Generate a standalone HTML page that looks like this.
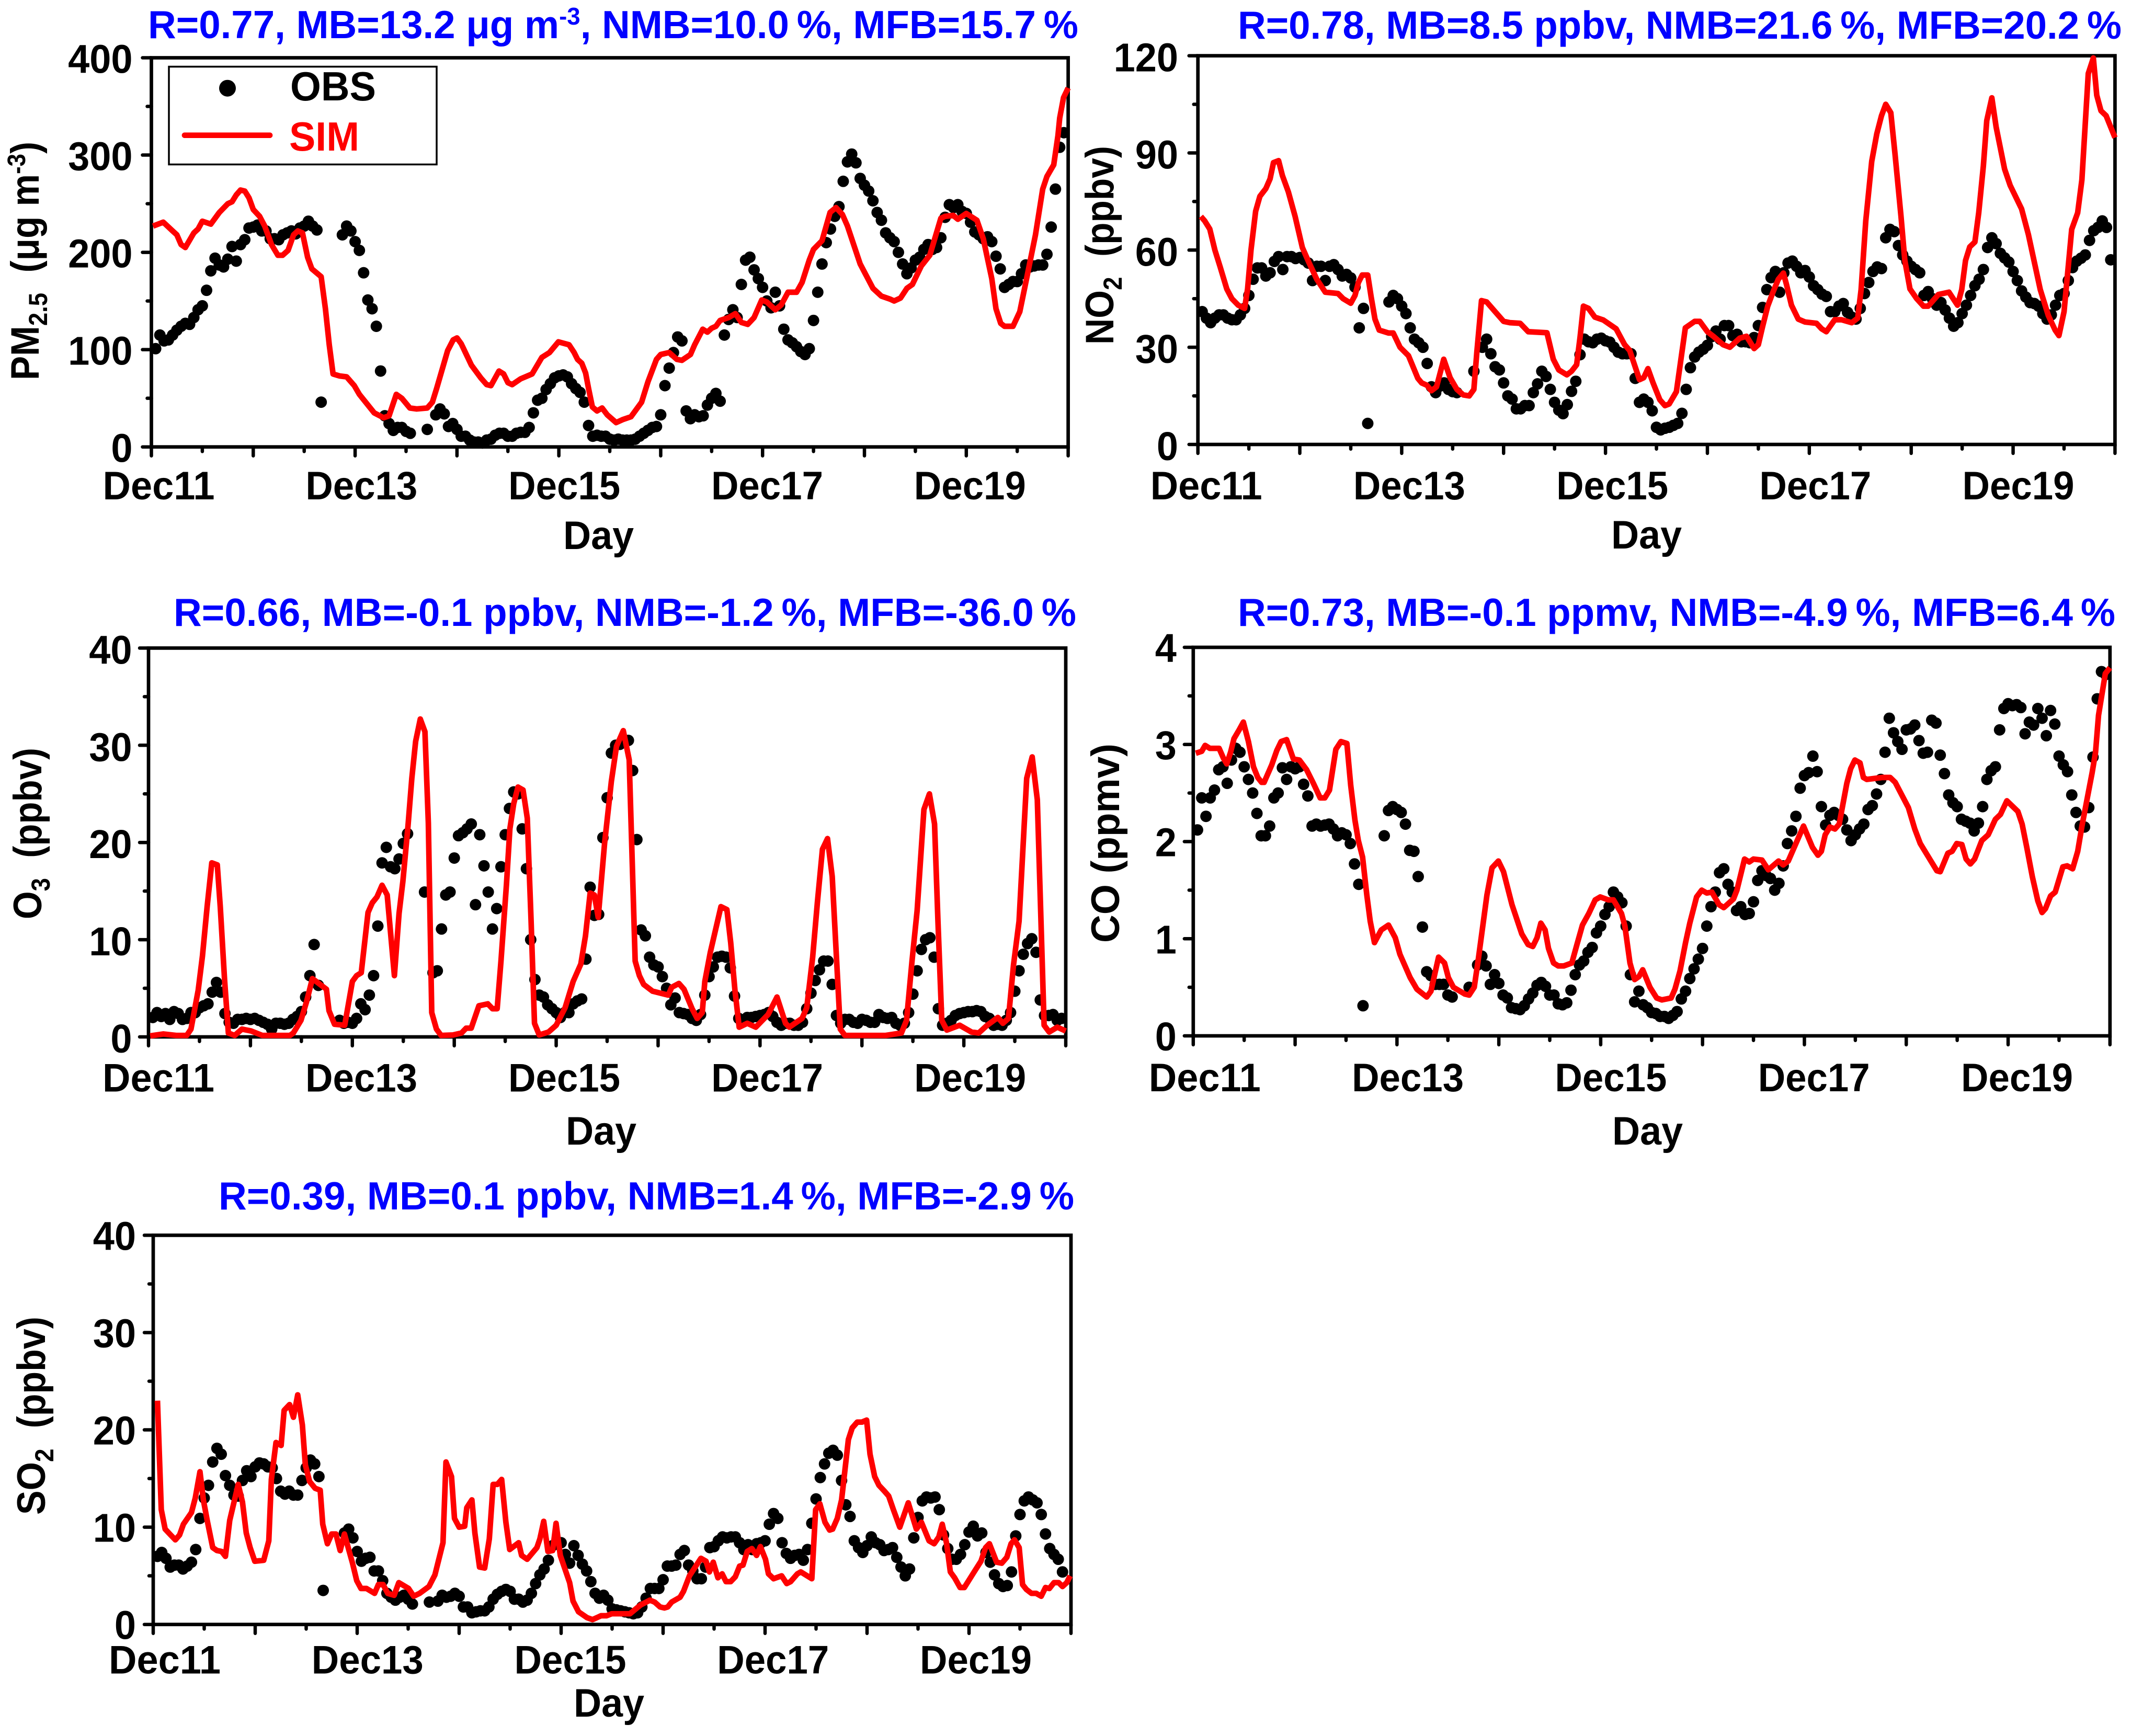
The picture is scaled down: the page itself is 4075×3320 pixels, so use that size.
<!DOCTYPE html>
<html lang="en">
<head>
<meta charset="utf-8">
<title>Observed and simulated pollutant time series</title>
<style>
html,body{margin:0;padding:0;background:#fff;}
svg{display:block;}
text{font-family:"Liberation Sans",Arial,sans-serif;font-weight:700;}
.title{fill:#0000ff;font-size:75px;}
.axt{fill:#000;font-size:76px;}
</style>
</head>
<body>
<svg id="chart" xmlns="http://www.w3.org/2000/svg" width="4075" height="3320" viewBox="0 0 4075 3320">
<rect x="0" y="0" width="4075" height="3320" fill="#fff"/>

<text class="title" x="283" y="73" textLength="1779" lengthAdjust="spacingAndGlyphs">R=0.77, MB=13.2 μg m<tspan font-size="46" dy="-26">-3</tspan><tspan dy="26">, NMB=10.0&#8201;%, MFB=15.7&#8201;%</tspan></text>
<text class="title" x="2367" y="74" textLength="1690" lengthAdjust="spacingAndGlyphs">R=0.78, MB=8.5 ppbv, NMB=21.6&#8201;%, MFB=20.2&#8201;%</text>
<text class="title" x="332" y="1197" textLength="1726" lengthAdjust="spacingAndGlyphs">R=0.66, MB=-0.1 ppbv, NMB=-1.2&#8201;%, MFB=-36.0&#8201;%</text>
<text class="title" x="2367" y="1197" textLength="1678" lengthAdjust="spacingAndGlyphs">R=0.73, MB=-0.1 ppmv, NMB=-4.9&#8201;%, MFB=6.4&#8201;%</text>
<text class="title" x="418" y="2313" textLength="1636" lengthAdjust="spacingAndGlyphs">R=0.39, MB=0.1 ppbv, NMB=1.4&#8201;%, MFB=-2.9&#8201;%</text>

<text class="axt" transform="translate(74,727) rotate(-90)" textLength="456" lengthAdjust="spacingAndGlyphs">PM<tspan font-size="50" dy="16">2.5</tspan><tspan dy="-16">&#160;&#160;(μg m</tspan><tspan font-size="48" dy="-26">-3</tspan><tspan dy="26">)</tspan></text>
<text class="axt" transform="translate(2129,659) rotate(-90)" textLength="380" lengthAdjust="spacingAndGlyphs">NO<tspan font-size="50" dy="16">2</tspan><tspan dy="-16">&#160;&#160;(ppbv)</tspan></text>
<text class="axt" transform="translate(79,1758) rotate(-90)" textLength="328" lengthAdjust="spacingAndGlyphs">O<tspan font-size="50" dy="16">3</tspan><tspan dy="-16">&#160;&#160;(ppbv)</tspan></text>
<text class="axt" transform="translate(2140,1803) rotate(-90)" textLength="381" lengthAdjust="spacingAndGlyphs">CO (ppmv)</text>
<text class="axt" transform="translate(86,2897) rotate(-90)" textLength="379" lengthAdjust="spacingAndGlyphs">SO<tspan font-size="50" dy="16">2</tspan><tspan dy="-16">&#160;&#160;(ppbv)</tspan></text>

<text class="axt" x="1077" y="1050" textLength="135" lengthAdjust="spacingAndGlyphs">Day</text>
<text class="axt" x="3081" y="1049" textLength="135" lengthAdjust="spacingAndGlyphs">Day</text>
<text class="axt" x="1082" y="2189" textLength="135" lengthAdjust="spacingAndGlyphs">Day</text>
<text class="axt" x="3083" y="2189" textLength="135" lengthAdjust="spacingAndGlyphs">Day</text>
<text class="axt" x="1097" y="3283" textLength="135" lengthAdjust="spacingAndGlyphs">Day</text>

<g id="panels"></g>

<g>
<rect x="323" y="127.5" width="512" height="187" fill="#fff" stroke="#000" stroke-width="3.5"/>
<circle cx="435" cy="168.7" r="16" fill="#000"/>
<text x="555" y="192" font-size="78" fill="#000" textLength="164" lengthAdjust="spacingAndGlyphs">OBS</text>
<line x1="353" y1="258.7" x2="516" y2="258.7" stroke="#ff0000" stroke-width="10.7" stroke-linecap="round"/>
<text x="553" y="288" font-size="78" fill="#ff0000" textLength="134" lengthAdjust="spacingAndGlyphs">SIM</text>
</g>
</svg>

<script>
const n = null;
const dayTickLabels = ["Dec11","Dec13","Dec15","Dec17","Dec19"];

const pm25YTicks = [0,100,200,300,400];
const pm25Obs = [
101,115,109,110,115,120,124,127,126,133,
141,145,161,181,194,187,185,193,206,191,
208,213,225,226,228,222,222,214,214,213,
218,220,222,219,225,227,232,227,223,46,
n,n,n,n,218,227,222,211,202,179,
151,142,124,78,32,24,17,20,20,16,
14,n,n,n,18,n,33,39,34,21,
24,18,11,11,7,5,5,4,7,8,
12,14,14,11,11,14,15,15,20,35,
48,50,59,65,71,73,74,72,65,60,
56,46,22,11,12,11,11,8,7,8,
7,7,7,8,11,14,17,20,21,33,
63,81,97,113,109,37,29,33,31,32,
43,50,55,47,115,131,141,133,167,192,
195,182,173,164,150,143,159,145,121,110,
107,103,98,95,101,130,159,188,210,224,
237,247,273,293,301,292,276,269,263,253,
241,233,220,215,211,200,188,178,184,192,
195,203,208,203,205,215,236,249,246,249,
242,240,231,221,218,214,216,211,196,183,
164,167,170,170,178,187,185,186,187,187,
198,226,265,308,323];
const pm25SimHours = [0.4,2.8,5,6,7,8,10,11,12,14,16,18,19,20,21,22,23,24,25.5,26.7,28.3,29.8,30.9,32.2,33.5,34.5,35.6,36.8,37.8,40,41,41.9,42.8,44.3,46,47.8,49,52.5,54.7,56,57.7,59,60.9,62.5,65,66.2,67.2,69.8,71.1,72,73,75.4,77.6,79,80,81.9,83,84,85,87,89.7,92,93.8,95.9,98.4,99.6,100.4,101.4,102.3,103,103.9,105,106.2,107.4,109.5,111,113,115.5,117,119,120,121,122,123.8,125,127,128,129.9,131,132,133,134,136,137.6,139,140.5,142,143.8,145,147,148.4,150,152,153.3,155,156,158,159.9,161.3,162.8,164,167,170,172,174,175,176.5,178,179.3,181.4,183.4,186,187,188.9,190,192,194.5,196,198,199,200.1,201,203,204.6,206.2,208.3,210,211,212.6,213.6,214,214.9,216];
const pm25SimValues = [227,231,222,218,208,205,220,224,232,229,241,250,252,259,264,263,256,244,237,227,208,197,197,202,218,222,220,195,183,175,142,105,75,73,72,63,54,35,30,32,54,50,40,39,40,46,60,99,110,112,106,84,71,64,63,78,75,66,64,70,75,92,97,108,105,97,90,86,76,60,41,37,40,33,25,28,31,46,67,90,95,96,97,90,89,95,105,121,118,122,124,130,133,137,128,126,133,151,149,141,146,159,159,169,192,203,212,241,246,239,227,188,163,155,152,150,153,163,167,186,197,235,237,238,234,240,233,214,173,142,127,124,124,139,173,218,265,278,290,320,338,359,369];

const no2YTicks = [0,30,60,90,120];
const no2Obs = [
41,39,37.6,39,40,40,39,38.5,38.5,40,
42,46,51,54.5,54.5,52,53,56.5,58,54,
58,58,57.4,57.7,57,56,50.6,55,55,50.6,
55,55.5,54,52,52.5,51.4,48.6,36,42,6.5,
n,n,n,n,44,46,45,42.7,40.4,36,
32.5,31.4,30,25,17.8,16,18,19,17,16.3,
16,n,n,n,22.6,n,30,32.5,28,24,
23,19,15,14,11,11,12,12,16,18.7,
22.6,21,17,13,10.6,9.5,12.3,16.4,19.5,27.7,
32.5,31.7,31.4,32.5,32.8,32,31.6,30,28.5,28,
28,28,20.4,13,14,13,10.4,5.3,4.5,5,
5.3,5.9,6.5,9.6,17,23.7,27,28.5,29.4,30.6,
33.3,35,32.5,36.7,36.7,33.6,34,31.7,31.7,31.4,
33,36.7,42.3,47.8,51.5,53.4,47,53,56,56.6,
55,53,53.7,51.7,49,47.8,46.4,45.7,41,41,
42.7,43.5,40.8,39.3,38.7,42,46.6,50,53.4,54.8,
54.3,63.8,66.4,65.7,61.4,58.5,56.6,55,54,53,
46,47.2,45,43,43.8,41.5,39,36.5,37.6,40.4,
43,46,49,51,54,60.8,63.8,62,59,57.6,
56.3,53.4,50.6,47.4,45.5,43.8,43.5,42.7,40.4,38.7,
40,43,46,46.6,50.6,54.6,56.6,57.5,58.5,63,
66,67,69,67,57];
const no2SimHours = [0.7,1.6,2.8,4,5.2,6.8,8,9.5,11,11.7,12.5,13.6,14.6,16,17,17.8,19,19.9,21.3,22.9,24.6,26,28,30,33,34.2,36,37,37.8,38.7,40,40.8,41.7,42.7,44.9,46,47.6,49.6,51.8,52.7,53.9,55,56.2,57.9,59.4,61,62.5,63.9,65,65.7,66.8,68,70,72,73.5,75.9,77.8,82.2,83.7,85,86.9,88,89.2,90,90.8,92,93.5,95.5,98.5,100.5,101.7,104,105,106,107.2,108.8,110,111,112.7,114.8,117,118.2,120,121.4,123.7,125.3,127.6,129.2,131,132,133,134.2,135.5,136.7,137.9,138.6,139.8,141.4,143,145.7,146.9,148,150,151.6,154,155.4,156.2,157.3,158.7,159.9,161,162,163.2,164.2,165.6,166.5,167.7,169.3,170.9,172,174.4,176.9,178.9,179.9,180.8,181.8,183,183.9,185,185.8,187,188,190,191.3,194,195.6,198.4,200.3,201.9,202.8,204,205.8,207.2,208.2,209.7,210.9,211.7,212.7,213.9,216];
const no2SimValues = [70.4,69,66.5,60,55,48,45,43,42,48,60,72,76.6,79,82,87,87.6,83,78,70.4,60.8,56.6,51,47,46.6,45,43.6,46,50,52.3,52.3,45.5,38.7,35.3,34.4,34.4,30,27.4,20.4,19,18.3,16.6,17.8,26.3,20.6,17,15.3,15,17,28.5,44.4,44,41,38,37.6,37.4,34.8,34.5,26.3,23,21.5,22.6,24.6,33,42.7,42,39.3,38.4,35.7,30.8,29,20,20.6,23.4,19,13.8,12,12.5,16.3,36,38,38,34.8,33.4,30.8,30,32.8,33.4,29.6,30.8,36.4,42.7,47.2,51,52.9,49.5,43,38.7,37.8,37.4,35.7,34.8,38.5,38.5,37.6,39,47.8,69,87.4,95.9,101.5,105,102.4,89.6,70.4,56.8,48,45,42.7,42.7,46.3,47,43,47.8,56.8,61,62.5,71.5,86,100,107,98,85,80,72.7,64.8,47.8,39.8,35.3,33.6,41,66.4,71.5,81.7,114.5,119.3,107.8,103,101.5,94.7];

const o3YTicks = [0,10,20,30,40];
const o3Obs = [
2,2.5,2.1,2.4,1.8,2.6,2.4,1.8,1.9,2.5,
2.5,3,3.2,3.4,4.6,5.6,4.6,2.4,1.5,1.4,
1.8,1.8,1.9,1.8,1.9,1.7,1.5,1.3,0.8,1.4,
1.4,1.3,1.4,1.8,2.1,2.6,4.1,6.3,9.5,5.3,
n,n,n,n,1.7,1.4,1.5,1.4,1.9,3.4,
2.8,4.3,6.3,11.4,17.9,19.5,17.5,17.3,18.3,19.9,
20.9,n,n,n,14.9,n,6.6,6.8,11.1,14.6,
14.9,18.4,20.7,21,21.4,21.9,13.6,20.8,17.6,14.9,
11.1,13.2,17.5,20.8,23.5,25.2,25,21.4,17.3,10,
5.9,4.3,4.1,3.3,2.9,2.5,2,2.5,2.5,3.4,
3.7,3.9,8,15.4,12.5,12.6,20.5,24.6,29.2,30,
30.1,30.4,30.5,27.4,20.3,11,10.4,8.2,7.4,7.2,
6.2,5,3.3,4,2.5,2.4,2.3,1.9,1.7,2.3,
4.3,6.2,7.2,8.2,8.3,8.2,7.1,4.2,1.9,1.7,
2,2,2.1,2.2,2.3,2.5,2.1,1.5,1.2,1.4,
1.4,1.2,1.2,1.5,2.9,4.5,5.8,6.9,7.8,7.8,
5.4,2.2,1.4,1.8,1.8,1.5,1.4,1.8,1.7,1.5,
1.5,2.3,2,1.9,2,1.4,1.2,1.4,2.5,4.4,
6.8,9,10,10.2,8.2,2.9,1.2,1.4,1.7,2.2,
2.4,2.5,2.6,2.6,2.7,2.6,2.1,1.9,1.2,1.3,
1.2,1.7,2.5,4.7,6.8,8.5,9.6,10.1,8.7,3.8,
2.2,2.2,2.3,1.7,1.9];
const o3SimHours = [0.4,3.5,6.5,9,10,11.7,12.7,13.8,14.9,16.2,16.9,17.9,18.8,20.3,22,24.2,26.8,33.3,34.1,35.9,37.2,38.6,41.9,42.5,43.8,46.2,48,49,50.1,51.7,52.7,53.8,55,56.2,57.9,59,59.9,61.1,62,62.9,64,65.1,65.9,66.7,67.8,68.9,71.7,73.7,74.8,76,77.8,79.9,81,82.1,83,84.3,85.1,86,87,88.2,89.2,90.1,90.9,92,94.2,96,98.1,100,101.8,102.9,104,105,105.9,107.4,109,110.2,111.8,113.2,114.6,115.6,116.6,118.7,122.4,123.2,124.9,126.1,128,129.2,130.4,131,132.3,134.8,136.2,137.1,138.1,139.1,141,143,145.9,148,150,150.9,153.9,155,156.4,157.5,158.7,159.9,161,162,162.9,164,173.6,177.3,178.5,179.8,181,182.6,183.9,185.1,185.9,186.8,188,191,193.8,195.5,197.5,200,201.2,202.5,203.7,205,206.8,208.1,209.3,209.9,210.9,212.1,214,216];
const o3SimValues = [0.1,0.3,0.15,0.15,0.8,4.8,8.3,13.4,17.9,17.7,13.4,5.9,0.4,0.15,0.8,0.6,0.15,0.15,0.4,1.7,3.6,6,4.9,2.7,1.3,1.2,5.7,6.3,6.6,12.8,13.8,14.4,15.6,14.6,6.3,12.7,16,21.7,26.6,30.4,32.7,31.4,22,2.5,0.8,0.15,0.2,0.4,0.9,0.9,3.2,3.4,2.9,2.9,7.8,15.7,21.4,24,25.7,25.4,22.5,11.9,1.4,0.2,0.5,1.2,3,5.7,7.5,10.4,14.8,14.6,12.3,19.9,26.3,29.9,31.5,28.5,7.8,6.3,5.4,4.7,4.3,5.1,5.5,4.9,2.9,1.9,2.5,5.7,8.7,13.4,13.1,9.7,4.8,1,1.4,1,2.3,4.1,1.4,1,1.9,3,8.2,13.8,19.3,20.4,16.5,8.2,0.8,0.15,0.15,0.4,1.7,7.8,13,23.4,25,21.9,11.9,1.7,0.7,1.2,0.5,0.4,1.2,2,1.4,1.9,7.4,11.9,26.6,28.8,24.4,15.7,1.2,0.5,1,0.6];

const coYTicks = [0,1,2,3,4];
const coObs = [
2.12,2.45,2.26,2.45,2.53,2.74,2.77,2.6,2.84,2.96,
2.92,2.77,2.64,2.5,2.29,2.06,2.06,2.16,2.45,2.5,
2.76,2.64,2.77,2.75,2.77,2.59,2.47,2.16,2.18,2.16,
2.17,2.18,2.13,2.06,2.09,2.07,1.98,1.77,1.56,0.31,
n,n,n,n,2.06,2.32,2.36,2.33,2.3,2.18,
1.91,1.9,1.64,1.12,0.66,0.62,0.53,0.53,0.53,0.42,
0.4,n,n,n,0.5,n,0.73,0.82,0.72,0.53,
0.63,0.54,0.42,0.39,0.29,0.28,0.27,0.31,0.38,0.44,
0.52,0.55,0.51,0.42,0.42,0.33,0.32,0.34,0.47,0.63,
0.73,0.77,0.86,0.91,1.06,1.13,1.25,1.33,1.48,1.43,
1.37,1.13,0.63,0.35,0.46,0.32,0.29,0.24,0.23,0.2,
0.2,0.18,0.21,0.25,0.38,0.46,0.59,0.69,0.79,0.9,
1.13,1.33,1.48,1.68,1.72,1.56,1.48,1.29,1.33,1.25,
1.26,1.38,1.6,1.7,1.65,1.62,1.5,1.57,1.75,1.98,
2.11,2.26,2.55,2.68,2.71,2.88,2.72,2.36,2.17,2.27,
2.3,2.27,2.23,2.12,2.01,2.07,2.13,2.18,2.33,2.37,
2.49,2.64,2.92,3.27,3.12,3.03,2.95,3.15,3.16,3.2,
3.04,2.91,2.92,3.25,3.22,2.89,2.7,2.48,2.4,2.36,
2.23,2.21,2.19,2.11,2.19,2.36,2.64,2.73,2.77,3.15,
3.37,3.42,3.4,3.41,3.38,3.11,3.23,3.2,3.37,3.27,
3.09,3.35,3.21,2.88,2.79,2.72,2.48,2.3,2.16,2.15,
2.35,2.87,3.47,3.75,3.72];
const coSimHours = [0.6,2,2.8,3.9,6.1,7.1,7.9,8.8,9.6,10.8,11.8,13,14.2,15.2,16.1,16.7,18.5,19.7,20.7,22,23.6,25,26.7,28.3,29.9,31,32.1,33.6,34.8,36.2,37.1,38.1,38.9,39.9,40.9,41.7,42.7,44.3,46,47.6,48.7,51.1,52.7,55,56,57.8,59.2,60.1,61.3,64,65,66.2,67.2,69.2,70.4,71.9,73.1,75.1,77.4,78.9,80,81,81.9,82.9,83.7,84.9,86,87.3,89.2,90.4,91.7,93.2,94.7,95.9,97.8,99,100.9,101.7,102.9,104,105,105.9,107.6,109.2,110.4,112.6,113.5,114.7,116,117,118.6,119.8,121,122.2,123.9,125,127.3,128.1,129.9,131,132,134,135.5,137.9,139,140.2,141.8,143.8,145.9,147.2,148,148.9,150,151.2,152.2,154,154.9,155.9,157.1,157.9,158.7,162.3,164.2,165.4,168.5,170,171.3,175.2,176,177.8,178.8,179.9,181.1,182.1,183.1,184.1,185.8,187.3,189,190.2,191.7,194.3,195.3,196.4,197.7,199,200,200.8,202,203.1,204.9,205.9,207.2,208.4,209.4,211.8,212.6,213.3,214.9,216];
const coSimValues = [2.91,2.93,2.99,2.96,2.96,2.86,2.8,2.92,3.06,3.15,3.23,3.03,2.77,2.66,2.61,2.61,2.79,2.94,3.03,3.05,2.85,2.84,2.74,2.6,2.45,2.45,2.53,2.95,3.03,3.01,2.58,2.22,2.01,1.84,1.45,1.18,0.96,1.09,1.14,1.01,0.84,0.6,0.48,0.4,0.46,0.81,0.75,0.6,0.5,0.43,0.42,0.5,0.8,1.45,1.73,1.8,1.69,1.35,1.05,0.94,0.92,1.01,1.16,1.09,0.9,0.75,0.72,0.72,0.75,0.94,1.14,1.26,1.4,1.43,1.4,1.4,1.26,1.13,0.75,0.58,0.61,0.68,0.5,0.39,0.37,0.39,0.48,0.67,0.96,1.16,1.43,1.5,1.47,1.48,1.35,1.32,1.41,1.5,1.82,1.79,1.82,1.81,1.71,1.8,1.76,1.8,1.96,2.16,1.94,1.86,1.9,2.07,2.15,2.13,2.18,2.6,2.75,2.84,2.81,2.66,2.64,2.66,2.66,2.61,2.35,2.13,1.98,1.7,1.69,1.88,1.9,1.98,1.97,1.82,1.77,1.82,2.01,2.07,2.23,2.28,2.42,2.31,2.18,1.94,1.64,1.39,1.27,1.31,1.44,1.48,1.74,1.75,1.72,1.9,2.16,2.71,2.92,3.3,3.73,3.79];

const so2YTicks = [0,10,20,30,40];
const so2Obs = [
7,7.4,6.8,5.9,6.1,6.1,5.7,6,6.4,7.7,
10.9,13,14.3,16.7,18.1,17.5,15.3,14.3,13.3,13.2,
14.8,15.8,15.2,16.2,16.6,16.5,16.2,16.1,15,13.7,
13.4,13.7,13.3,13.3,14.8,16.1,16.9,16.5,15.2,3.5,
n,n,n,n,9.4,9.8,8.9,7.5,6.5,6.8,
6.9,5.5,5.5,4.5,3.2,2.8,2.5,2.8,3,2.6,
2.1,n,n,n,2.3,n,2.4,3,2.8,2.9,
3.2,2.9,1.8,1.8,1.2,1.3,1.4,1.4,1.8,2.6,
3.1,3.4,3.6,3.4,2.6,2.6,2.3,2.5,3.2,4.2,
5.1,5.7,6.6,8.1,8.4,8.4,7.2,6.3,8.1,7.1,
6.2,5.5,4.4,3.2,2.7,3,2.5,1.6,1.5,1.4,
1.3,1.2,1.1,1.2,1.8,2.7,3.7,3.7,3.7,4.6,
6,6,6.1,7.2,7.6,6.1,5.5,4.7,4.7,5.9,
7.9,8,8.6,9,8.9,9,9,8.4,7.7,8.2,
7.7,8.3,8.4,8.6,10.3,11.4,10.9,8.4,7.3,6.8,
7.1,7.2,6.6,7.7,10.4,12.9,15.1,16.5,17.6,17.9,
17.4,14.8,12.3,11.1,8.6,7.9,7.4,8.1,9,8.4,
8.2,7.6,7.7,7.9,6.9,5.9,5,5.7,8.9,11,
12.7,13.1,13,13.1,11.8,9.2,7.8,6.7,6.7,7.2,
8.2,9.5,10.1,9.1,9.4,7.4,6.4,5.1,4.2,3.9,
4,5.4,9.1,11.3,12.7,13.1,12.8,12.5,11.3,9.3,
7.8,7.2,6.7,5.4];
const so2SimHours = [1,1.9,2.8,4.1,5.2,6.2,7.1,9,9.9,11,11.8,12.7,14,15,16.1,17,18,20,21,21.9,22.8,23.9,26,27.2,27.8,28.9,30.1,30.8,32.1,33,34,35.1,35.8,36.8,38.1,39.3,39.9,41,42,43,44,45,46.9,47.9,48.9,50.2,52.1,53,54.1,55.2,56.7,57.8,60.1,61.3,62.7,64.9,66.3,68.2,68.9,70.2,70.9,72,73.3,73.8,75,75.7,76.8,78,79.1,80,81,82,83,83.9,86,86.7,88,90.3,91,91.9,92.9,94,94.8,95.8,98,98.8,100.1,102.1,103.4,105.4,106.7,107.9,112.2,113.3,114.7,116.9,118,119.3,120.3,121.1,122,124,124.8,126.2,128.9,130.1,130.9,131.8,132.9,133.9,134.8,135.9,137,138,138.8,139.8,140.9,142,142.9,144.1,144.8,146,147.9,149.1,150,151.6,152.4,155,155.9,156.9,158.1,159.2,159.9,161,162,163.6,164.5,165.7,166.8,167.9,168.7,169.8,170.8,172.1,173.1,174.2,175.7,177.7,179.6,180.8,182.6,183.8,184.9,185.7,186.7,187.6,188.6,189.9,190.9,193.2,194.8,195.9,196.8,198.5,199.7,200.9,201.9,202.7,203.8,204.6,205.5,206.7,207.8,209,210,210.9,212,213.1,214,215,215.8];
const so2SimValues = [23,11.8,9.8,9.2,8.7,9.2,10.3,11.5,13,15.7,12.8,10.7,7.9,7.6,7.5,7,10.7,14.4,12.6,9.4,7.9,6.5,6.6,8.6,14.9,18.7,18.4,22,22.6,21.3,23.6,20.5,16.4,14.7,14,13.8,10.3,8.3,9.3,9.3,7.6,9.3,6.3,4.5,3.7,3.7,3.2,4.1,4.1,3.2,3,4.3,3.7,2.9,3.2,3.9,5.1,8.4,16.7,15.2,10.9,10,10.1,12,12.8,9.4,5.9,5.8,8.8,14.4,14.4,14.9,10.5,7.7,8.4,7.1,6.7,7.9,8.8,10.6,7.5,7.6,10.4,7.1,4.3,2.4,1.3,0.7,0.5,0.9,0.9,1.1,1.1,1.5,2,2.5,2.3,1.8,1.7,1.8,2.3,2.8,3.4,5,6.8,6.5,5.4,6.4,4.8,5.2,4.4,4.4,4.9,6,6.1,7.5,7.8,7.1,8,6.7,5.2,4.7,5,4.2,4.4,5.2,5.4,4.7,11.8,12.4,10.5,9.7,9.8,10.9,12.8,19,20.2,20.8,20.8,21,17.5,15.2,14.3,13.7,13.2,11.8,10,12.5,9.8,10.5,8.6,8.3,9,10.3,8.4,5.4,4.8,3.8,3.8,5.4,6.5,7.9,8.3,6.4,6.3,6.9,8.3,8.7,7.9,4.1,3.6,3.2,3.2,2.9,3.8,3.7,4.3,4.3,3.9,4.3,5];

const TOTAL_HOURS = 216;
const SVGNS = "http://www.w3.org/2000/svg";
const root = document.getElementById("panels");

function mk(parent, tag, attrs) {
  const el = document.createElementNS(SVGNS, tag);
  for (const k in attrs) el.setAttribute(k, attrs[k]);
  parent.appendChild(el);
  return el;
}

function drawPanel(p) {
  const group = mk(root, "g", {});
  
  

  const xScale = h => p.left + (p.right - p.left) * h / TOTAL_HOURS;
  const yMax = p.yTicks[p.yTicks.length - 1];
  const yScale = v => p.bottom - (p.bottom - p.top) * v / yMax;

  const frame = mk(group, "rect", {x: p.left, y: p.top, width: p.right - p.left, height: p.bottom - p.top, fill: "none", stroke: "#000", "stroke-width": 6.7});
  
  

  const step = p.yTicks[1] - p.yTicks[0];
  for (let i = 0; i < p.yTicks.length; i++) {
    const v = p.yTicks[i];
    const tick = mk(group, "line", {x1: p.left - 17, x2: p.left, y1: yScale(v), y2: yScale(v), stroke: "#000", "stroke-width": 6.5, "stroke-linecap": "round"});
    
    
    const text = String(v);
    const label = mk(group, "text", {x: p.left - p.yLabelGap, y: yScale(v) + p.yLabelDrop, "text-anchor": "end", "font-size": 77, fill: "#000", textLength: (text.length * 0.556 * 74).toFixed(1), lengthAdjust: "spacingAndGlyphs"});
    label.textContent = text;
    
    
    if (i < p.yTicks.length - 1) {
      const mv = v + step / 2;
      const minor = mk(group, "line", {x1: p.left - 8, x2: p.left, y1: yScale(mv), y2: yScale(mv), stroke: "#000", "stroke-width": 6.5, "stroke-linecap": "round"});
      
      
    }
  }

  for (let h = 0; h <= TOTAL_HOURS; h += 12) {
    const isMajor = h % 24 === 0;
    const tick = mk(group, "line", {x1: xScale(h), x2: xScale(h), y1: p.bottom, y2: p.bottom + (isMajor ? 17 : 8.7), stroke: "#000", "stroke-width": 6.5, "stroke-linecap": "round"});
    
    
  }

  dayTickLabels.forEach(function (name, i) {
    const h = i * 48;
    const shift = p.labelShiftStart + (p.labelShiftEnd - p.labelShiftStart) * h / 192;
    const label = mk(group, "text", {x: xScale(h) + shift, y: p.bottom + p.xLabelDrop, "text-anchor": "middle", "font-size": 76, fill: "#000", textLength: 214, lengthAdjust: "spacingAndGlyphs"});
    label.textContent = name;
    
    
  });

  p.obs.forEach(function (v, i) {
    if (v === null) return;
    const dot = mk(group, "circle", {cx: xScale(i + 1), cy: yScale(v), r: 11, fill: "#000"});
    
    
  });

  const pts = p.simHours.map((h, i) => xScale(h).toFixed(1) + "," + yScale(p.simValues[i]).toFixed(1)).join(" ");
  const line = mk(group, "polyline", {points: pts, fill: "none", stroke: "#ff0000", "stroke-width": 10.7, "stroke-linejoin": "round", "stroke-linecap": "butt"});
  
  
}

drawPanel({key: "pm25", left: 289.5, right: 2042.6, top: 110.5, bottom: 854.7, yTicks: pm25YTicks, obs: pm25Obs, simHours: pm25SimHours, simValues: pm25SimValues, yLabelGap: 36, yLabelDrop: 29, xLabelDrop: 100.5, labelShiftStart: 14, labelShiftEnd: 7});
drawPanel({key: "no2", left: 2290.7, right: 4044.4, top: 106.6, bottom: 850, yTicks: no2YTicks, obs: no2Obs, simHours: no2SimHours, simValues: no2SimValues, yLabelGap: 37.7, yLabelDrop: 30, xLabelDrop: 105, labelShiftStart: 16, labelShiftEnd: 10});
drawPanel({key: "o3", left: 284, right: 2038, top: 1239.4, bottom: 1983, yTicks: o3YTicks, obs: o3Obs, simHours: o3SimHours, simValues: o3SimValues, yLabelGap: 31.5, yLabelDrop: 30, xLabelDrop: 104.6, labelShiftStart: 19, labelShiftEnd: 12});
drawPanel({key: "co", left: 2281.8, right: 4034.8, top: 1238, bottom: 1981, yTicks: coYTicks, obs: coObs, simHours: coSimHours, simValues: coSimValues, yLabelGap: 32, yLabelDrop: 28, xLabelDrop: 106, labelShiftStart: 22, labelShiftEnd: 17});
drawPanel({key: "so2", left: 293, right: 2048, top: 2362.4, bottom: 3106.7, yTicks: so2YTicks, obs: so2Obs, simHours: so2SimHours, simValues: so2SimValues, yLabelGap: 33, yLabelDrop: 28, xLabelDrop: 94, labelShiftStart: 22, labelShiftEnd: 13});
</script>
</body>
</html>
